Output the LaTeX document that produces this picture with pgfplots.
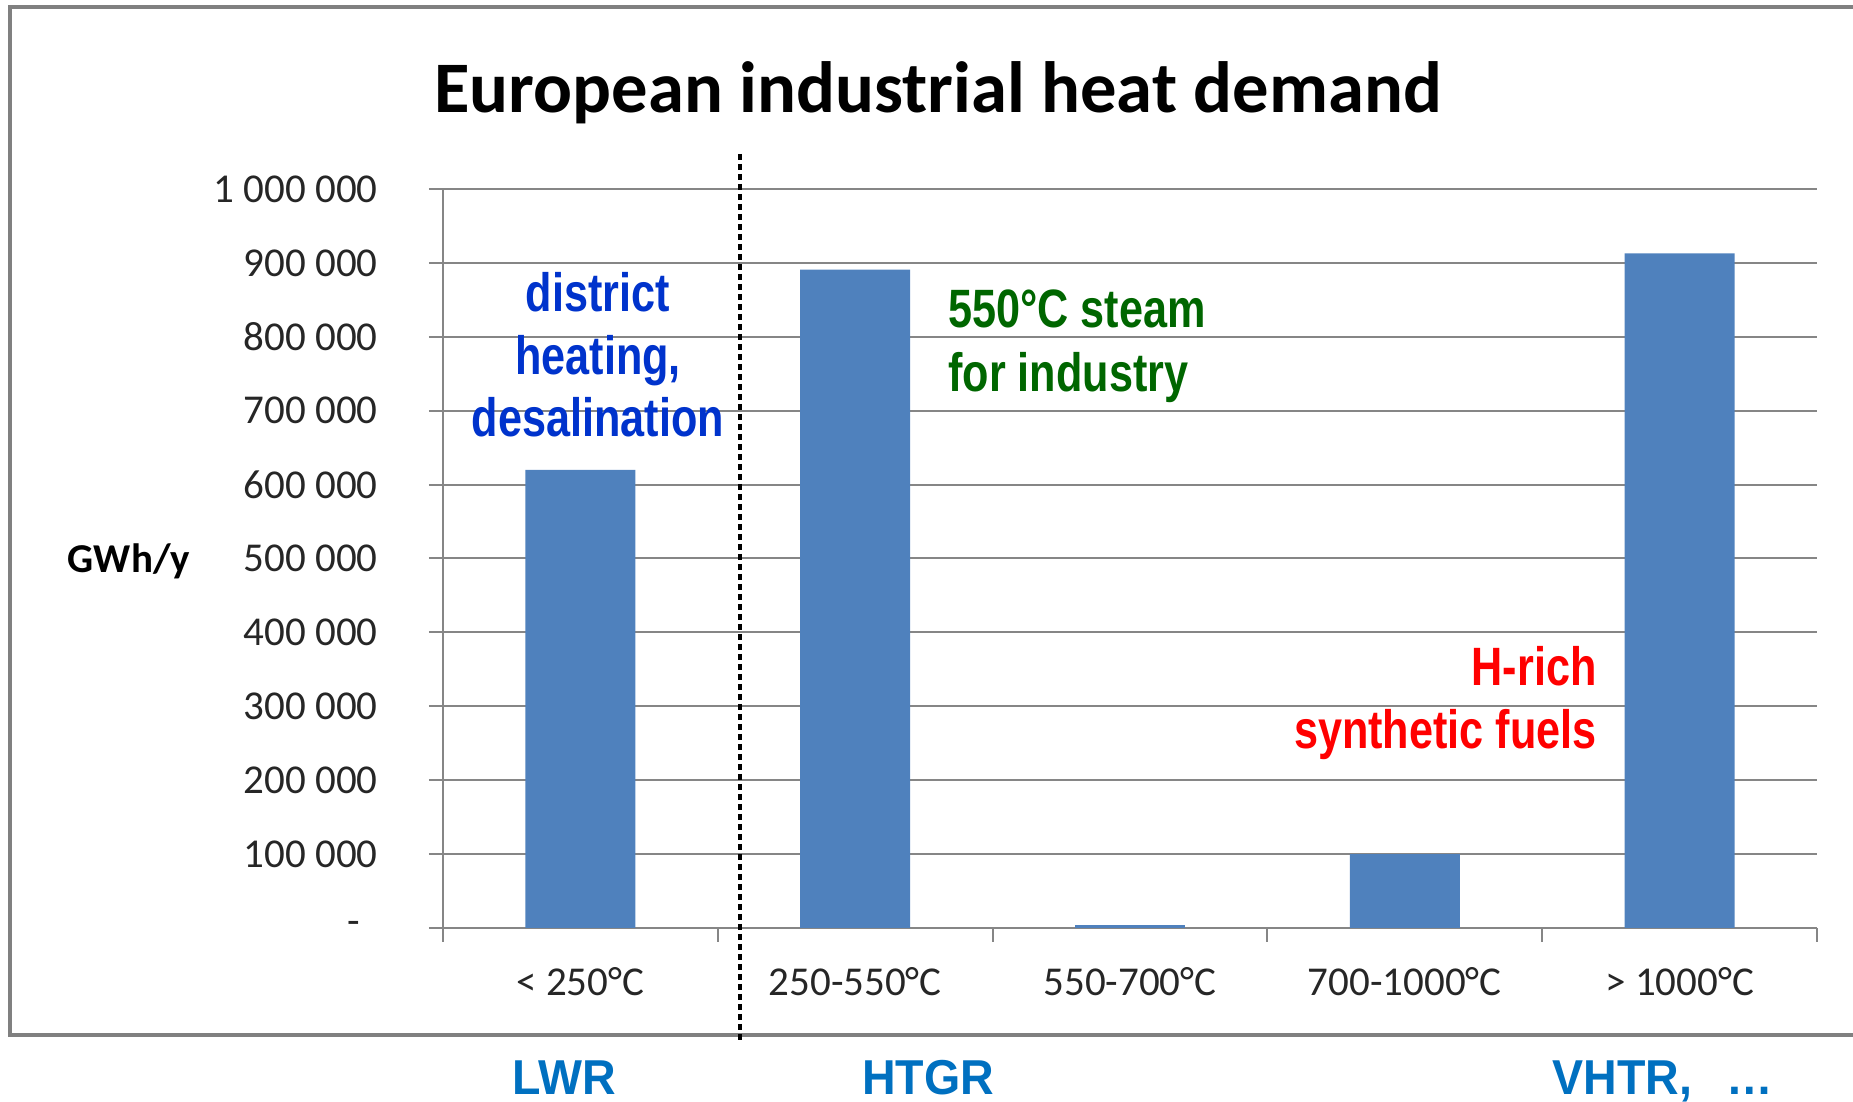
\documentclass[border=0pt]{standalone}
\usepackage{pgfplots}
\pgfplotsset{compat=1.18}
\usepackage{fontspec}
\usepackage{graphicx}
\setmainfont{Carlito}
\newfontfamily\arialf{Liberation Sans}
\definecolor{barblue}{HTML}{4F81BD}
\definecolor{gridgray}{HTML}{868686}
\definecolor{framegray}{HTML}{808080}
\definecolor{annblue}{HTML}{0033CC}
\definecolor{anngreen}{HTML}{006600}
\definecolor{annred}{HTML}{FF0000}
\definecolor{reactblue}{HTML}{0070C0}
\newcommand{\ann}[1]{{\arialf\bfseries\fontsize{27pt}{30pt}\selectfont\scalebox{0.8}[1]{#1}}}
\newcommand{\reac}[1]{{\arialf\bfseries\fontsize{24.5pt}{28pt}\selectfont\scalebox{0.95}[1]{#1}}}
\begin{document}
\begin{tikzpicture}
\path[use as bounding box] (0,0) rectangle (926.5pt,551pt);
\draw[framegray, line width=2pt] (926.5pt,547.5pt) -- (5pt,547.5pt) -- (5pt,33.5pt) -- (926.5pt,33.5pt);
\begin{axis}[
  at={(221.5pt,87pt)}, anchor=south west,
  scale only axis, width=687pt, height=369.5pt,
  xmin=-0.5, xmax=4.5, ymin=0, ymax=1000000,
  enlargelimits=false,
  axis lines=left,
  axis line style={gridgray, line width=1pt, -},
  tick style={gridgray, line width=1pt},
  tick align=outside,
  major tick length=7pt,
  xtick={-0.5,0.5,1.5,2.5,3.5,4.5},
  x tick label as interval,
  xticklabels={{< 250°C},{250-550°C},{550-700°C},{700-1000°C},{> 1000°C}},
  ytick={0,100000,200000,300000,400000,500000,600000,700000,800000,900000,1000000},
  yticklabels={{-\rule{9pt}{0pt}},{100 000},{200 000},{300 000},{400 000},{500 000},{600 000},{700 000},{800 000},{900 000},{1 000 000}},
  scaled y ticks=false,
  ymajorgrids=true,
  grid style={gridgray, line width=1pt},
  ticklabel style={text=black!85, font=\fontsize{20.5pt}{24pt}\selectfont, inner sep=0pt},
  yticklabel style={anchor=east, xshift=-25.5pt},
  xticklabel style={anchor=base, yshift=-27pt},
  clip=false,
]
\addplot[ybar, bar width=0.4, fill=barblue, draw=none] coordinates {(0,620000) (1,891000) (2,4000) (3,100000) (4,913000)};
\end{axis}
\draw[black, line width=2pt, dash pattern=on 3pt off 2pt] (370pt,474pt) -- (370pt,31pt);
\node[anchor=base, inner sep=0pt, font=\bfseries\fontsize{36.3pt}{40pt}\selectfont] at (469pt,494.5pt) {European industrial heat demand};
\node[anchor=base, inner sep=0pt, font=\bfseries\fontsize{20.5pt}{24pt}\selectfont] at (64.5pt,264.5pt) {GWh/y};
\node[anchor=base, inner sep=0pt, text=annblue] at (299pt,395pt) {\ann{district}};
\node[anchor=base, inner sep=0pt, text=annblue] at (299pt,363.5pt) {\ann{heating,}};
\node[anchor=base, inner sep=0pt, text=annblue] at (299pt,332.5pt) {\ann{desalination}};
\node[anchor=base west, inner sep=0pt, text=anngreen] at (474pt,387pt) {\ann{550°C steam}};
\node[anchor=base west, inner sep=0pt, text=anngreen] at (474pt,355pt) {\ann{for industry}};
\node[anchor=base east, inner sep=0pt, text=annred] at (798.5pt,208pt) {\ann{H-rich}};
\node[anchor=base east, inner sep=0pt, text=annred] at (798.5pt,176.5pt) {\ann{synthetic fuels}};
\node[anchor=base, inner sep=0pt, text=reactblue] at (282pt,3.5pt) {\reac{LWR}};
\node[anchor=base, inner sep=0pt, text=reactblue] at (464pt,3.5pt) {\reac{HTGR}};
\node[anchor=base west, inner sep=0pt, text=reactblue] at (776pt,3.5pt) {\reac{VHTR,\hspace{0.75em}…}};
\end{tikzpicture}
\end{document}
